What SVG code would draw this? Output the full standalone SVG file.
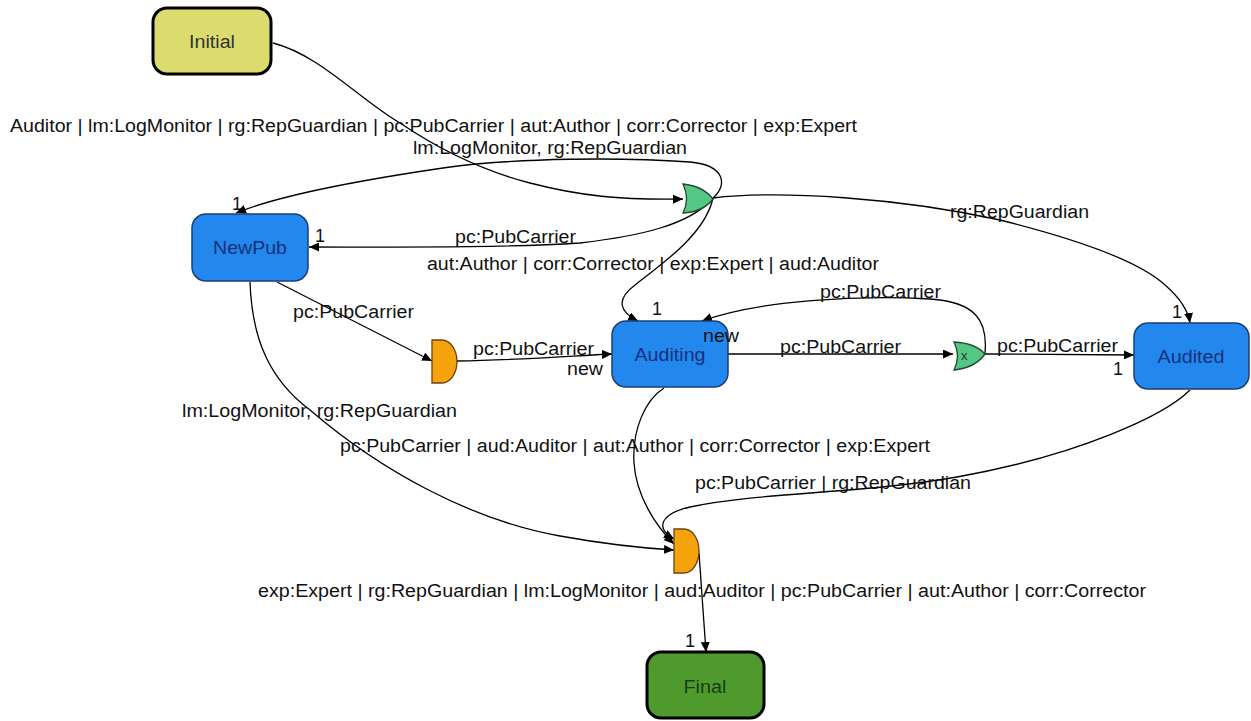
<svg xmlns="http://www.w3.org/2000/svg" width="1251" height="721" viewBox="0 0 1251 721">
<defs>
<marker id="arr" markerUnits="userSpaceOnUse" markerWidth="11" markerHeight="9" refX="10" refY="4.5" orient="auto">
<path d="M0,0 L10,4.5 L0,9 Z" fill="#000"/>
</marker>
<style>
.t{font-family:"Liberation Sans",Arial,sans-serif;font-size:18px;fill:#111}
.n{font-family:"Liberation Sans",Arial,sans-serif;font-size:18px;text-anchor:middle}
.blue rect{fill:#2288ee;stroke:#1b3d78;stroke-width:1.5}
.blue text{fill:#17307a}
.ea{fill:none;stroke:#000;stroke-width:1.3;marker-end:url(#arr)}
.or{fill:#55c785;stroke:#1f4a2c;stroke-width:1.3}
.and{fill:#f5a30c;stroke:#6e4210;stroke-width:1.3}
</style>
</defs>
<rect width="1251" height="721" fill="#fff"/>

<g id="connectors">
<path class="ea" d="M273,43 C320,55 360,100 400,123 C440,150 480,170 530,183 C580,196 620,200 683,199"/>
<path class="ea" d="M713,198 C728,185 725,165 690,162 C620,157 520,158 450,167 C360,180 280,195 236,213"/>
<path class="ea" d="M713,198 C690,225 640,236 580,243 C500,248 400,247 309,247"/>
<path class="ea" d="M713,198 C705,235 660,265 635,285 C615,300 620,312 638,321"/>
<path class="ea" d="M713,198 C780,190 900,198 1000,220 C1080,240 1140,262 1165,285 C1180,298 1188,310 1190,323"/>
<path class="ea" d="M277,282 L432,361"/>
<path class="ea" d="M457,361 C520,360 570,356 612,354"/>
<path class="ea" d="M728,354 L953,354"/>
<path class="ea" d="M985,353 C988,320 975,302 930,299 C860,295 760,300 702,321"/>
<path class="ea" d="M985,354 L1134,355"/>
<path class="ea" d="M250,282 C252,340 270,380 310,410 C380,470 470,520 560,536 C610,545 640,548 674,550"/>
<path class="ea" d="M664,388 C645,400 632,430 634,463 C636,495 655,525 674,544"/>
<path class="ea" d="M1190,390 C1165,415 1080,455 957,477 C860,494 760,492 690,507 C660,514 655,528 674,539"/>
<path class="ea" d="M699,553 L706,652"/>
</g>

<g id="Initial">
<rect x="153" y="8" width="118" height="66" rx="14" fill="#dcdc6e" stroke="#000" stroke-width="3"/>
<text class="n" x="212" y="48" fill="#333" textLength="46" lengthAdjust="spacingAndGlyphs">Initial</text>
</g>
<g id="NewPub" class="blue">
<rect x="192" y="214" width="116" height="67" rx="14"/>
<text class="n" x="250" y="254" textLength="74" lengthAdjust="spacingAndGlyphs">NewPub</text>
</g>
<g id="Auditing" class="blue">
<rect x="612" y="321" width="116" height="66" rx="14"/>
<text class="n" x="670" y="361" textLength="71" lengthAdjust="spacingAndGlyphs">Auditing</text>
</g>
<g id="Audited" class="blue">
<rect x="1134" y="323" width="115" height="66" rx="14"/>
<text class="n" x="1191" y="363" textLength="67" lengthAdjust="spacingAndGlyphs">Audited</text>
</g>
<g id="Final">
<rect x="647" y="652" width="117" height="66" rx="14" fill="#4e9a2c" stroke="#000" stroke-width="3"/>
<text class="n" x="705" y="693" fill="#1c3a16" textLength="43" lengthAdjust="spacingAndGlyphs">Final</text>
</g>
<g id="or_top">
<path class="or" d="M683,184 Q690,199 683,213 Q703,212 713,199 Q703,186 683,184 Z"/>
</g>
<g id="xor_gate">
<path class="or" d="M954,342 Q961,356 954,370 Q975,368 985,354 Q975,343 954,342 Z"/>
<text x="961" y="360" style="font-family:'Liberation Sans',Arial,sans-serif;font-size:13px;fill:#333">x</text>
</g>
<g id="and_left">
<path class="and" d="M432,340 L442,340 A15,21.5 0 0 1 442,383 L432,383 Z"/>
</g>
<g id="and_bottom">
<path class="and" d="M674,529 L684,529 A15,22 0 0 1 684,573 L674,573 Z"/>
</g>

<g id="connector-labels">
<text class="t" x="10" y="132" textLength="847" lengthAdjust="spacingAndGlyphs">Auditor | lm:LogMonitor | rg:RepGuardian | pc:PubCarrier | aut:Author | corr:Corrector | exp:Expert</text>
<text class="t" x="413" y="154" textLength="274" lengthAdjust="spacingAndGlyphs">lm:LogMonitor, rg:RepGuardian</text>
<text class="t" x="455" y="243" textLength="121" lengthAdjust="spacingAndGlyphs">pc:PubCarrier</text>
<text class="t" x="427" y="270" textLength="452" lengthAdjust="spacingAndGlyphs">aut:Author | corr:Corrector | exp:Expert | aud:Auditor</text>
<text class="t" x="950" y="218" textLength="139" lengthAdjust="spacingAndGlyphs">rg:RepGuardian</text>
<text class="t" x="293" y="318" textLength="121" lengthAdjust="spacingAndGlyphs">pc:PubCarrier</text>
<text class="t" x="473" y="355" textLength="121" lengthAdjust="spacingAndGlyphs">pc:PubCarrier</text>
<text class="t" x="567" y="375" textLength="36" lengthAdjust="spacingAndGlyphs">new</text>
<text class="t" x="820" y="298" textLength="121" lengthAdjust="spacingAndGlyphs">pc:PubCarrier</text>
<text class="t" x="780" y="353" textLength="121" lengthAdjust="spacingAndGlyphs">pc:PubCarrier</text>
<text class="t" x="703" y="342" textLength="36" lengthAdjust="spacingAndGlyphs">new</text>
<text class="t" x="997" y="352" textLength="121" lengthAdjust="spacingAndGlyphs">pc:PubCarrier</text>
<text class="t" x="182" y="417" textLength="275" lengthAdjust="spacingAndGlyphs">lm:LogMonitor, rg:RepGuardian</text>
<text class="t" x="340" y="452" textLength="590" lengthAdjust="spacingAndGlyphs">pc:PubCarrier | aud:Auditor | aut:Author | corr:Corrector | exp:Expert</text>
<text class="t" x="695" y="489" textLength="276" lengthAdjust="spacingAndGlyphs">pc:PubCarrier | rg:RepGuardian</text>
<text class="t" x="258" y="597" textLength="888" lengthAdjust="spacingAndGlyphs">exp:Expert | rg:RepGuardian | lm:LogMonitor | aud:Auditor | pc:PubCarrier | aut:Author | corr:Corrector</text>
<text class="t" x="232" y="210">1</text>
<text class="t" x="315" y="242">1</text>
<text class="t" x="652" y="315">1</text>
<text class="t" x="1172" y="318">1</text>
<text class="t" x="1113" y="375">1</text>
<text class="t" x="685" y="647">1</text>
</g>
</svg>
